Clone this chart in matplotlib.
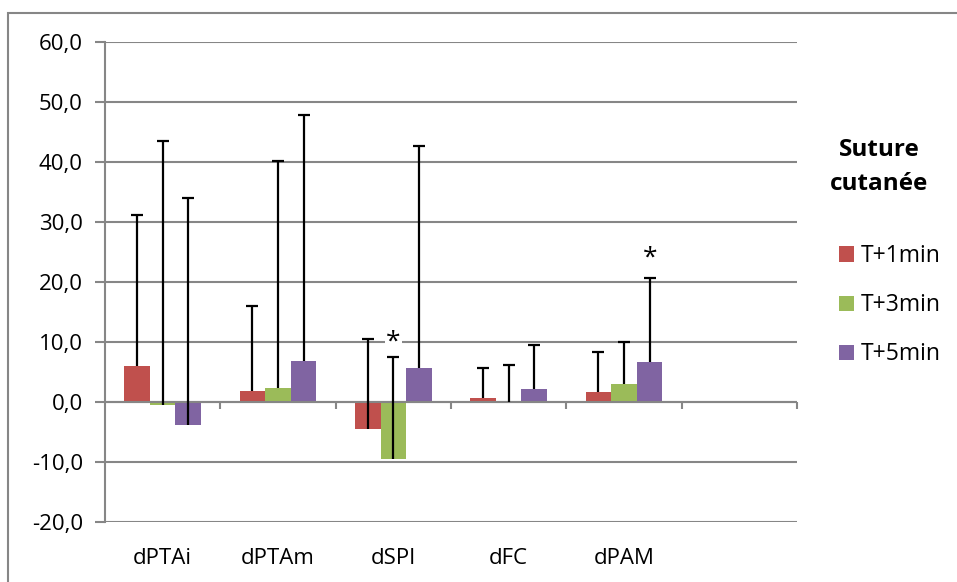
import numpy as np
import matplotlib.pyplot as plt
from matplotlib.patches import Rectangle
from matplotlib.transforms import ScaledTranslation

plt.rcParams['font.family'] = ['Open Sans', 'DejaVu Sans']

categories = ['dPTAi', 'dPTAm', 'dSPI', 'dFC', 'dPAM']
series = ['T+1min', 'T+3min', 'T+5min']
t1 = [6.0, 1.8, -4.6, 0.7, 1.6]
t3 = [-0.5, 2.3, -9.5, 0.0, 2.9]
t5 = [-3.9, 6.8, 5.6, 2.2, 6.6]
# upper end of each error bar (only the "plus" side is drawn)
t1_top = [31.1, 16.0, 10.4, 5.7, 8.3]
t3_top = [43.4, 40.1, 7.5, 6.1, 10.0]
t5_top = [33.9, 47.8, 42.6, 9.5, 20.6]
# (category, series, y) of the significance stars
stars = [(2, 1, 10.8), (4, 2, 24.8)]
colors = ['#C0504D', '#9BBB59', '#8064A2']
yticks = np.arange(-20, 61, 10)

grid_c = '#868686'
n_slots = 6  # Excel left an empty 6th category on the axis

fig = plt.figure(figsize=(9.57, 5.82), dpi=100)
ax = fig.add_axes([105 / 957, 1 - 521.7 / 582, 692 / 957, 480 / 582])

w = 1 / 4.5
x = np.arange(len(categories)) + 0.5
vals = [t1, t3, t5]
tops = [t1_top, t3_top, t5_top]
handles = []
for i in range(3):
    xi = x + (i - 1) * w
    v = np.array(vals[i])
    b = ax.bar(xi, v, w, color=colors[i], zorder=2)
    handles.append(b)
    err = np.array(tops[i]) - v
    eb = ax.errorbar(xi, v, yerr=[np.zeros_like(v), err], fmt='none',
                     ecolor='black', elinewidth=1.6, capsize=4, capthick=1.6, zorder=4)
    eb[1][0].set_visible(False)

star_shift = ax.transData + ScaledTranslation(0, -4 / 72, fig.dpi_scale_trans)
for ci, si, sy in stars:
    ax.text(x[ci] + (si - 1) * w, sy, '*', ha='center', va='center', fontsize=19,
            zorder=3.5, transform=star_shift,
            bbox=dict(facecolor='white', edgecolor='none', boxstyle='square,pad=0.05'))

ax.set_xlim(0, n_slots)
ax.set_ylim(-20, 60)
ax.set_yticks(yticks)
ax.set_yticklabels([f'{v:.1f}'.replace('.', ',') for v in yticks])
ax.yaxis.grid(True, color=grid_c, lw=1.5)
ax.set_axisbelow(True)
for s in ['top', 'right', 'bottom']:
    ax.spines[s].set_visible(False)
ax.spines['left'].set_color(grid_c)
ax.spines['left'].set_linewidth(1.5)
ax.tick_params(axis='y', length=7, width=1.5, color=grid_c, pad=9, labelsize=16)

ax.set_xticks(x)
ax.set_xticklabels(categories)
ax.tick_params(axis='x', length=0, pad=19, labelsize=16)

# horizontal axis sits on the zero line, with its own tick marks
ax.axhline(0, color=grid_c, lw=1.5, zorder=3)
ax.vlines(np.arange(1, n_slots + 1), -1.2, 0, color=grid_c, lw=1.5, zorder=3, clip_on=False)

ax.legend(handles, series, loc='upper left', bbox_to_anchor=(839 / 957, 1 - 244 / 582),
          bbox_transform=fig.transFigure, frameon=False, fontsize=16.5,
          handlelength=0.65, handleheight=0.65, handletextpad=0.3,
          labelspacing=1.1, borderpad=0, borderaxespad=0)
fig.text(879 / 957, 1 - 167 / 582, 'Suture\ncutanée', ha='center', va='center',
         fontsize=17.5, fontweight='bold', linespacing=1.5)

fig.add_artist(Rectangle((8 / 957, -0.1), 2, 1.1 - 13 / 582, transform=fig.transFigure,
                         fill=False, edgecolor=grid_c, lw=1.5))

fig.savefig('out.png', dpi=100)
